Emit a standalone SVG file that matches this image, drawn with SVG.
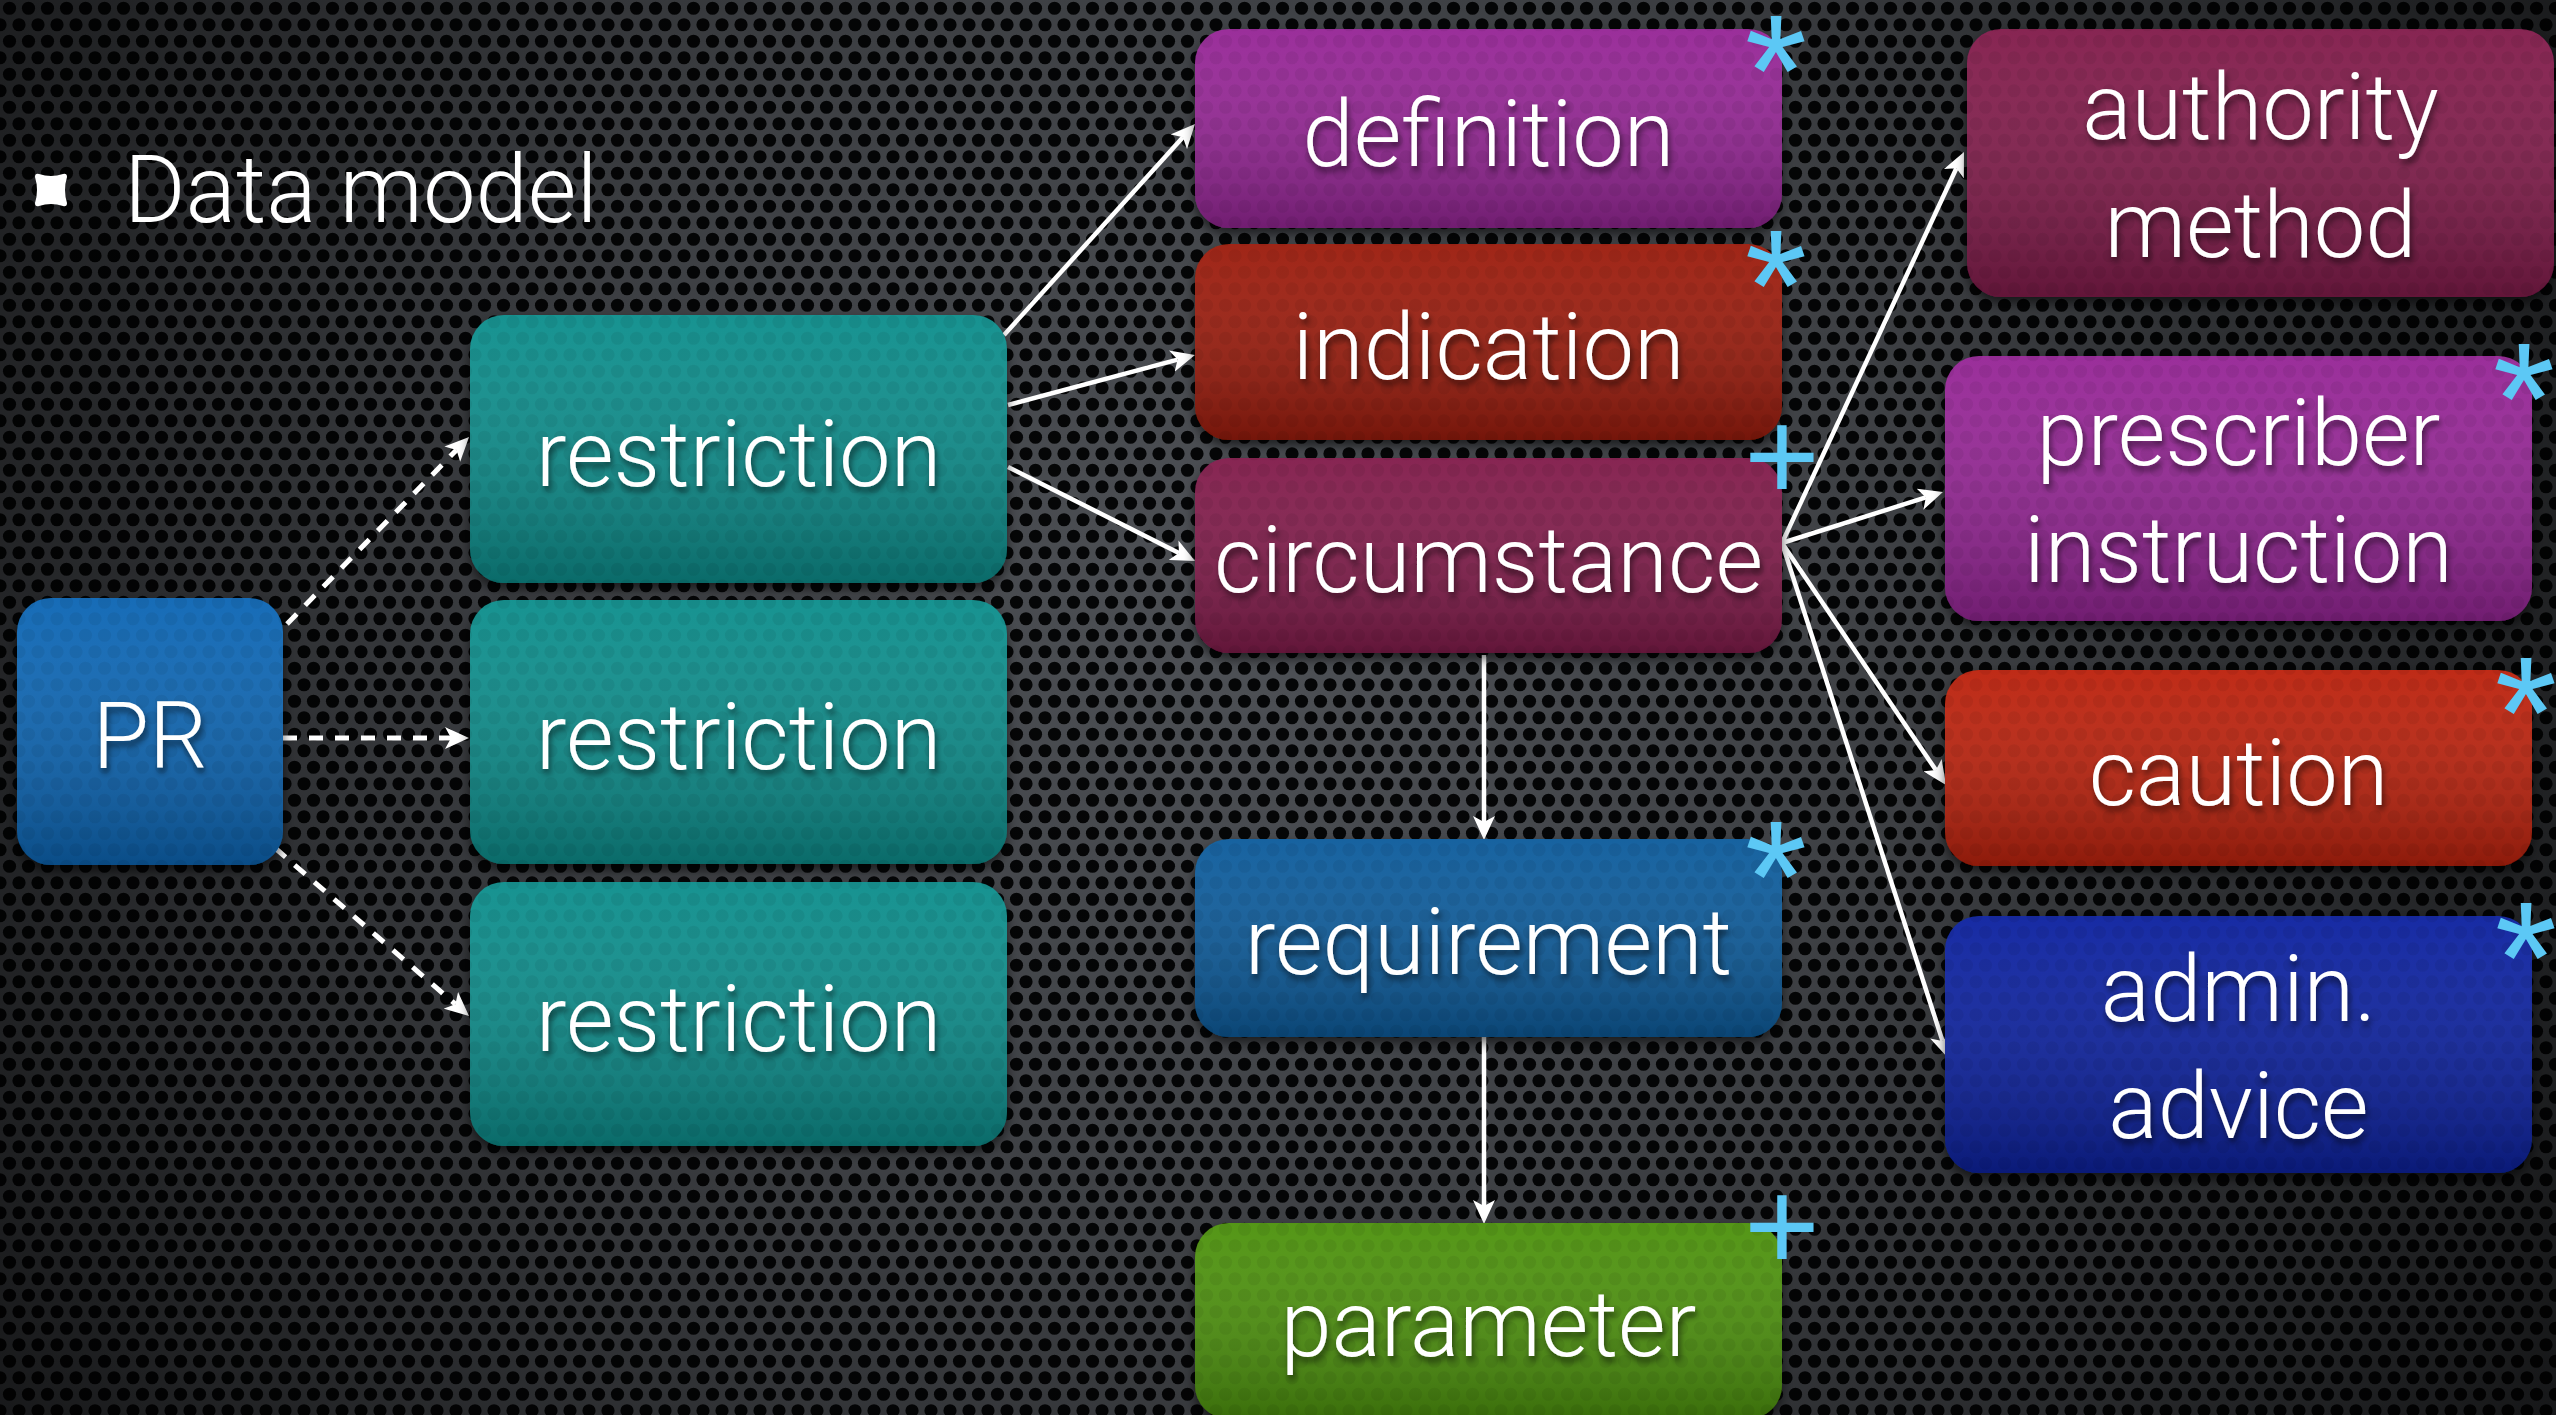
<svg xmlns="http://www.w3.org/2000/svg" width="2556" height="1415" viewBox="0 0 2556 1415">
<style>
.lbl{font-family:Roboto,"Liberation Sans",Arial,sans-serif;font-weight:300;font-size:92px;fill:#fff;text-anchor:middle;filter:url(#tsh)}
.mk{font-family:"Liberation Sans",Arial,sans-serif;fill:#5cc8f5;text-anchor:middle}
.ast{font-size:160px}
.pls{font-size:130px}
.box{filter:url(#bsh)}
.shade{fill:url(#shade)}
.dots{fill:url(#fdots)}
.con{fill:none;stroke:#fff;stroke-width:4.5;marker-end:url(#ah)}
.dash{stroke-width:5;stroke-dasharray:14 12}
.teal{fill:#0c8e8c}.blue{fill:#0b66b4}.purple{fill:#962896}.red{fill:#9c1c08}.maroon{fill:#821a4c}
.sblue{fill:#0a5c9c}.green{fill:#4e920a}.bred{fill:#bc2008}.navy{fill:#0a24a0}
</style>
<defs>
<pattern id="holes" width="19" height="33" patternUnits="userSpaceOnUse">
<circle cx="9.5" cy="8.25" r="6.6" fill="#050607"/>
<circle cx="0" cy="24.75" r="6.6" fill="#050607"/>
<circle cx="19" cy="24.75" r="6.6" fill="#050607"/>
</pattern>
<pattern id="fdots" width="19" height="33" patternUnits="userSpaceOnUse">
<circle cx="9.5" cy="8.25" r="6.6" fill="#000" fill-opacity="0.06"/>
<circle cx="0" cy="24.75" r="6.6" fill="#000" fill-opacity="0.06"/>
<circle cx="19" cy="24.75" r="6.6" fill="#000" fill-opacity="0.06"/>
</pattern>
<radialGradient id="vig" cx="1250" cy="600" r="1500" gradientUnits="userSpaceOnUse">
<stop offset="0" stop-color="#000" stop-opacity="0"/>
<stop offset="0.45" stop-color="#000" stop-opacity="0.22"/>
<stop offset="1" stop-color="#000" stop-opacity="0.7"/>
</radialGradient>
<linearGradient id="shade" x1="0" y1="0" x2="0" y2="1">
<stop offset="0" stop-color="#fff" stop-opacity="0.04"/>
<stop offset="1" stop-color="#000" stop-opacity="0.25"/>
</linearGradient>
<filter id="tsh" x="-10%" y="-30%" width="120%" height="160%">
<feDropShadow dx="2" dy="5" stdDeviation="3" flood-color="#000" flood-opacity="0.55"/>
</filter>
<filter id="bsh" x="-10%" y="-10%" width="120%" height="130%">
<feDropShadow dx="0" dy="6" stdDeviation="6" flood-color="#000" flood-opacity="0.6"/>
</filter>
<marker id="ah" viewBox="0 0 24 22" refX="6" refY="11" markerWidth="24" markerHeight="22" markerUnits="userSpaceOnUse" orient="auto">
<path d="M0,0 L24,11 L0,22 L6,11 Z" fill="#fff"/>
</marker>
</defs>

<g id="background">
<rect width="2556" height="1415" fill="#4e5156"/>
<rect width="2556" height="1415" fill="url(#holes)"/>
<rect width="2556" height="1415" fill="url(#vig)"/>
</g>

<g id="title">
<path d="M39,174 Q51,178 63,174 Q67,173 67,177 Q63,190 67,203 Q67,207 63,206 Q51,202 39,206 Q35,207 35,203 Q39,190 35,177 Q35,173 39,174 Z" fill="#fff"/>
<text x="124" y="222" font-family="Roboto,'Liberation Sans',Arial,sans-serif" font-weight="300" font-size="94" fill="#fff">Data model</text>
</g>

<g id="connectors">
<line class="con dash" x1="287" y1="624" x2="456.5" y2="449.9"/>
<line class="con dash" x1="283" y1="738" x2="451" y2="738"/>
<line class="con dash" x1="275" y1="848" x2="455.4" y2="1004.2"/>
<line class="con" x1="1004" y1="335" x2="1182.9" y2="137.3"/>
<line class="con" x1="1008" y1="405" x2="1177.6" y2="359.6"/>
<line class="con" x1="1008" y1="467" x2="1178.9" y2="552.9"/>
<line class="con" x1="1484" y1="655" x2="1484" y2="822"/>
<line class="con" x1="1484" y1="1037" x2="1484" y2="1206"/>
<line class="con" x1="1782" y1="543" x2="1956.4" y2="168.3"/>
<line class="con" x1="1782" y1="543" x2="1925.8" y2="497.4"/>
<line class="con" x1="1782" y1="543" x2="1935.9" y2="770.1"/>
<line class="con" x1="1782" y1="543" x2="1942.5" y2="1040.9"/>
</g>

<g id="node-pr">
<rect class="box blue" x="17" y="598" width="266" height="267" rx="34"/>
<rect class="shade" x="17" y="598" width="266" height="267" rx="34"/>
<rect class="dots" x="17" y="598" width="266" height="267" rx="34"/>
<text class="lbl" x="150" y="768">PR</text>
</g>

<g id="node-restriction-1">
<rect class="box teal" x="470" y="315" width="537" height="268" rx="34"/>
<rect class="shade" x="470" y="315" width="537" height="268" rx="34"/>
<rect class="dots" x="470" y="315" width="537" height="268" rx="34"/>
<text class="lbl" x="738.5" y="486">restriction</text>
</g>
<g id="node-restriction-2">
<rect class="box teal" x="470" y="600" width="537" height="264" rx="34"/>
<rect class="shade" x="470" y="600" width="537" height="264" rx="34"/>
<rect class="dots" x="470" y="600" width="537" height="264" rx="34"/>
<text class="lbl" x="738.5" y="769">restriction</text>
</g>
<g id="node-restriction-3">
<rect class="box teal" x="470" y="882" width="537" height="264" rx="34"/>
<rect class="shade" x="470" y="882" width="537" height="264" rx="34"/>
<rect class="dots" x="470" y="882" width="537" height="264" rx="34"/>
<text class="lbl" x="738.5" y="1051">restriction</text>
</g>

<g id="node-definition">
<rect class="box purple" x="1195" y="29" width="587" height="199" rx="34"/>
<rect class="shade" x="1195" y="29" width="587" height="199" rx="34"/>
<rect class="dots" x="1195" y="29" width="587" height="199" rx="34"/>
<text class="lbl" x="1488.5" y="166">definition</text>
<text class="mk ast" x="1776" y="126">*</text>
</g>
<g id="node-indication">
<rect class="box red" x="1195" y="244" width="587" height="196" rx="34"/>
<rect class="shade" x="1195" y="244" width="587" height="196" rx="34"/>
<rect class="dots" x="1195" y="244" width="587" height="196" rx="34"/>
<text class="lbl" x="1488.5" y="379">indication</text>
<text class="mk ast" x="1776" y="341">*</text>
</g>
<g id="node-circumstance">
<rect class="box maroon" x="1195" y="458" width="587" height="195" rx="34"/>
<rect class="shade" x="1195" y="458" width="587" height="195" rx="34"/>
<rect class="dots" x="1195" y="458" width="587" height="195" rx="34"/>
<text class="lbl" x="1488.5" y="592">circumstance</text>
<text class="mk pls" x="1782" y="500">+</text>
</g>
<g id="node-requirement">
<rect class="box sblue" x="1195" y="839" width="587" height="198" rx="34"/>
<rect class="shade" x="1195" y="839" width="587" height="198" rx="34"/>
<rect class="dots" x="1195" y="839" width="587" height="198" rx="34"/>
<text class="lbl" x="1488.5" y="974">requirement</text>
<text class="mk ast" x="1776" y="932">*</text>
</g>
<g id="node-parameter">
<rect class="box green" x="1195" y="1223" width="587" height="196" rx="34"/>
<rect class="shade" x="1195" y="1223" width="587" height="196" rx="34"/>
<rect class="dots" x="1195" y="1223" width="587" height="196" rx="34"/>
<text class="lbl" x="1488.5" y="1356">parameter</text>
<text class="mk pls" x="1782" y="1270">+</text>
</g>

<g id="node-authority-method">
<rect class="box maroon" x="1967" y="29" width="587" height="268" rx="34"/>
<rect class="shade" x="1967" y="29" width="587" height="268" rx="34"/>
<rect class="dots" x="1967" y="29" width="587" height="268" rx="34"/>
<text class="lbl" x="2260.5" y="139">authority</text>
<text class="lbl" x="2260.5" y="257">method</text>
</g>
<g id="node-prescriber-instruction">
<rect class="box purple" x="1945" y="356" width="587" height="265" rx="34"/>
<rect class="shade" x="1945" y="356" width="587" height="265" rx="34"/>
<rect class="dots" x="1945" y="356" width="587" height="265" rx="34"/>
<text class="lbl" x="2238.5" y="465">prescriber</text>
<text class="lbl" x="2238.5" y="582">instruction</text>
<text class="mk ast" x="2524" y="454">*</text>
</g>
<g id="node-caution">
<rect class="box bred" x="1945" y="670" width="587" height="196" rx="34"/>
<rect class="shade" x="1945" y="670" width="587" height="196" rx="34"/>
<rect class="dots" x="1945" y="670" width="587" height="196" rx="34"/>
<text class="lbl" x="2238.5" y="805">caution</text>
<text class="mk ast" x="2526" y="768">*</text>
</g>
<g id="node-admin-advice">
<rect class="box navy" x="1945" y="916" width="587" height="257" rx="34"/>
<rect class="shade" x="1945" y="916" width="587" height="257" rx="34"/>
<rect class="dots" x="1945" y="916" width="587" height="257" rx="34"/>
<text class="lbl" x="2238.5" y="1021">admin.</text>
<text class="lbl" x="2238.5" y="1138">advice</text>
<text class="mk ast" x="2526" y="1013">*</text>
</g>
</svg>
